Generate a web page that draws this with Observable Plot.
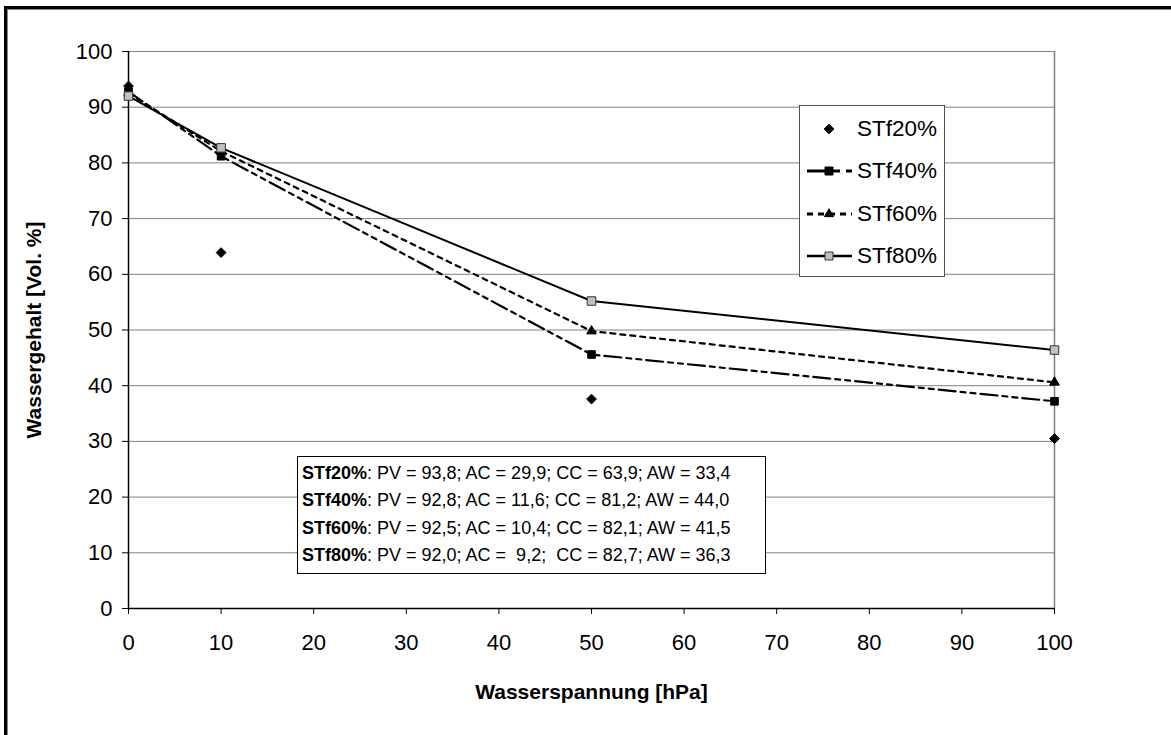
<!DOCTYPE html>
<html><head><meta charset="utf-8">
<script src="https://cdn.jsdelivr.net/npm/d3@7"></script>
<script src="https://cdn.jsdelivr.net/npm/@observablehq/plot@0.6"></script>
<style>
body{margin:0;background:#fff;font-family:"Liberation Sans",Arial,sans-serif;}
#wrap{position:relative;width:1171px;height:735px;overflow:hidden;background:#fff;}
#frame{position:absolute;left:4px;top:6px;width:1300px;height:900px;border-top:3px solid #000;border-left:3px solid #000;box-shadow:inset 1px 1px 0 #888;}
#chart{position:absolute;left:0;top:0;}
#chart svg text{font-family:"Liberation Sans",Arial,sans-serif;fill:#000;}
#chart svg [aria-label="x-axis label"] text,#chart svg [aria-label="y-axis label"] text{font-weight:bold;font-size:21px;}
#legend{position:absolute;left:799px;top:105px;width:144px;height:170px;border:1px solid #505050;background:#fff;}
.lg{position:absolute;left:0;height:30px;width:144px;}
.lg svg{position:absolute;left:6px;top:0;}
.lg span{position:absolute;left:57px;top:2px;font-size:22.5px;line-height:26px;}
#info{position:absolute;left:297px;top:456px;width:467px;height:116px;border:1px solid #000;background:#fff;font-size:18px;}
#info div{position:absolute;left:4px;white-space:pre;line-height:22px;}
</style>
</head><body>
<div id="wrap">
  <div id="frame"></div>
  <div id="chart"></div>
  <div id="legend"></div>
  <div id="info"></div>
</div>
<script>
// ---- data ----
const pressure = [0, 10, 50, 100];
const stf20 = [93.8, 63.9, 37.6, 30.5];
const stf40 = [92.8, 81.2, 45.6, 37.2];
const stf60 = [92.5, 82.1, 49.8, 40.6];
const stf80 = [92.0, 82.7, 55.2, 46.4];
const seriesNames = ["STf20%", "STf40%", "STf60%", "STf80%"];
const xTicks = [0, 10, 20, 30, 40, 50, 60, 70, 80, 90, 100];
const yTicks = [0, 10, 20, 30, 40, 50, 60, 70, 80, 90, 100];
const infoNames = ["STf20%", "STf40%", "STf60%", "STf80%"];
const infoTexts = [
  ": PV = 93,8; AC = 29,9; CC = 63,9; AW = 33,4",
  ": PV = 92,8; AC = 11,6; CC = 81,2; AW = 44,0",
  ": PV = 92,5; AC = 10,4; CC = 82,1; AW = 41,5",
  ": PV = 92,0; AC =  9,2;  CC = 82,7; AW = 36,3"
];

const seriesValues = [stf20, stf40, stf60, stf80];
const data = seriesNames.flatMap((s, i) => pressure.map((p, j) => ({series: s, x: p, y: seriesValues[i][j]})));
const of = s => data.filter(d => d.series === s);

const styles = {
  "STf20%": {line: false, symbol: "diamond2", r: 4.4, fill: "#000", stroke: "#000"},
  "STf40%": {line: true, dash: "17,5,5,5,5,5", width: 2.2, symbol: "square", r: 4.3, fill: "#000", stroke: "#000"},
  "STf60%": {line: true, dash: "5,5", width: 2.2, symbol: "triangle2", r: 4.6, fill: "#000", stroke: "#000"},
  "STf80%": {line: true, dash: null, width: 2, symbol: "square", r: 4.8, fill: "#c0c0c0", stroke: "#333"}
};

const marks = [
  Plot.gridY(yTicks, {stroke: "#808080", strokeOpacity: 1, strokeWidth: 1}),
  Plot.ruleX([100], {stroke: "#808080", strokeWidth: 1.5}),
];
for (const s of seriesNames) {
  const st = styles[s];
  if (st.line) marks.push(Plot.line(of(s), {x: "x", y: "y", stroke: "#000", strokeWidth: st.width, strokeDasharray: st.dash || undefined}));
}
marks.push(Plot.ruleX([0], {stroke: "#000", strokeWidth: 1.5}));
marks.push(Plot.ruleY([0], {stroke: "#000", strokeWidth: 1.5}));
for (const s of seriesNames) {
  const st = styles[s];
  marks.push(Plot.dot(of(s), {x: "x", y: "y", symbol: () => st.symbol, r: st.r, fill: st.fill, stroke: st.stroke, strokeWidth: 1}));
}
marks.push(Plot.axisX(xTicks, {tickSize: 6, tickPadding: 20, fontSize: 22, label: "Wasserspannung [hPa]", labelArrow: false, labelAnchor: "center", labelOffset: 90}));
marks.push(Plot.axisY(yTicks, {tickSize: 6, tickPadding: 10, fontSize: 22, label: "Wassergehalt [Vol. %]", labelArrow: false, labelAnchor: "center", labelOffset: 102}));

const chart = Plot.plot({
  width: 1171,
  height: 735,
  marginLeft: 128,
  marginRight: 117,
  marginTop: 51,
  marginBottom: 127,
  style: {fontSize: "22px", fontFamily: "'Liberation Sans', Arial, sans-serif", background: "transparent", overflow: "visible"},
  x: {domain: [0, 100], ticks: xTicks, label: "Wasserspannung [hPa]"},
  y: {domain: [0, 100], ticks: yTicks, label: "Wassergehalt [Vol. %]"},
  marks
});
document.getElementById("chart").appendChild(chart);

// legend
const legend = document.getElementById("legend");
const lgTops = [8, 50, 93, 135];
const symPath = {
  "diamond2": d3.symbol(d3.symbolDiamond2, 60)(),
  "square": d3.symbol(d3.symbolSquare, 64)(),
  "triangle2": d3.symbol(d3.symbolTriangle2, 60)()
};
seriesNames.forEach((s, i) => {
  const st = styles[s];
  const el = document.createElement("div");
  el.className = "lg";
  el.style.top = lgTops[i] + "px";
  const ns = "http://www.w3.org/2000/svg";
  const svg = document.createElementNS(ns, "svg");
  svg.setAttribute("width", 50); svg.setAttribute("height", 30);
  if (st.line) {
    const l = document.createElementNS(ns, "line");
    l.setAttribute("x1", 1); l.setAttribute("x2", 46); l.setAttribute("y1", 15); l.setAttribute("y2", 15);
    l.setAttribute("stroke", "#000"); l.setAttribute("stroke-width", st.width + 0.6);
    if (st.dash) l.setAttribute("stroke-dasharray", s === "STf40%" ? "20,6,7,6" : "6,5");
    svg.appendChild(l);
  }
  const p = document.createElementNS(ns, "path");
  p.setAttribute("d", symPath[st.symbol]);
  p.setAttribute("transform", "translate(23,15)");
  p.setAttribute("fill", st.fill); p.setAttribute("stroke", st.stroke);
  svg.appendChild(p);
  el.appendChild(svg);
  const t = document.createElement("span");
  t.textContent = s;
  el.appendChild(t);
  legend.appendChild(el);
});

// info box
const info = document.getElementById("info");
const infoTops = [5, 32, 60, 87];
infoNames.forEach((n, i) => {
  const d = document.createElement("div");
  d.style.top = infoTops[i] + "px";
  const b = document.createElement("b");
  b.textContent = n;
  d.appendChild(b);
  d.appendChild(document.createTextNode(infoTexts[i]));
  info.appendChild(d);
});
</script>
</body></html>
